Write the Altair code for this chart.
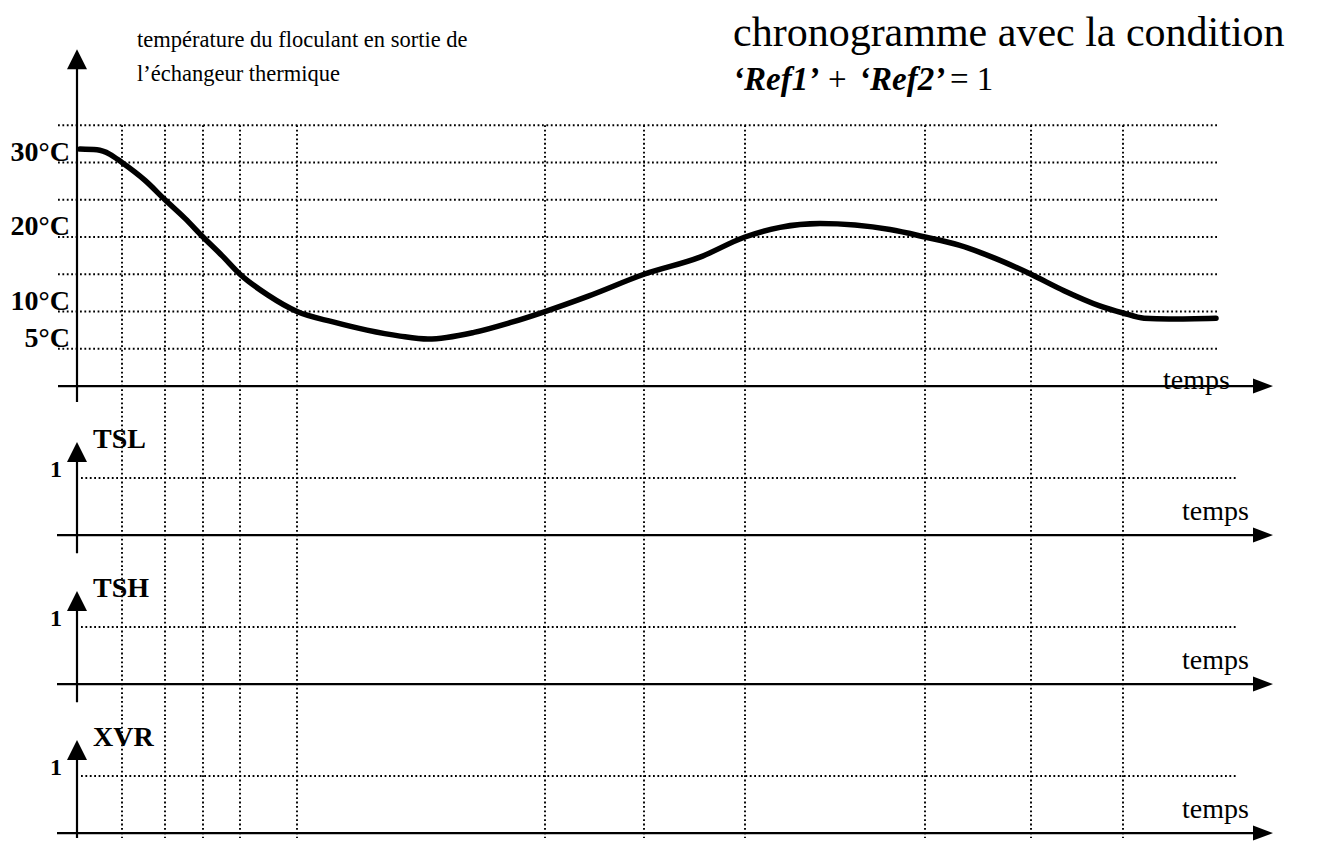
import altair as alt
import pandas as pd

# ---------------- values ----------------
# time in arbitrary units (0 = vertical axis), temperature in °C
curve_time = [0.3, 2.0, 3.3, 4.5, 6.8, 8.8, 10.8, 12.6, 14.5, 16.3, 19.1, 22.0,
              25.6, 29.0, 32.3, 35.1, 39.7, 43.3, 46.8, 51.2, 56.7, 62.3, 66.8,
              70.3, 74.3, 77.8, 81.3, 84.8, 88.2, 91.7, 95.4, 98.7, 102.2, 104.6,
              106.7, 109.2, 113.9]
curve_temp = [31.8, 31.7, 31.1, 30.0, 27.6, 25.0, 22.5, 20.0, 17.5, 15.0, 12.2, 10.0,
              8.6, 7.5, 6.7, 6.3, 7.2, 8.5, 10.0, 12.1, 15.0, 17.3, 20.0,
              21.3, 21.8, 21.6, 21.0, 20.0, 18.9, 17.2, 15.0, 12.8, 10.8, 9.8,
              9.1, 9.0, 9.1]
grid_times = [4.5, 8.8, 12.6, 16.3, 22.0, 46.8, 56.7, 66.8, 84.8, 95.4, 104.6]
temp_grid_levels = [5, 10, 15, 20, 25, 30, 35]
temp_tick_values = [30, 20, 10, 5]
temp_tick_labels = ["30°C", "20°C", "10°C", "5°C"]
signal_names = ["TSL", "TSH", "XVR"]
signal_level = 1
axis_label = "temps"
heading_lines = ["température du floculant en sortie de", "l’échangeur thermique"]
title_line1 = "chronogramme avec la condition"
title_line2_parts = ["‘Ref1’", "+", "‘Ref2’", "= 1"]
title_line2_bold = [True, False, True, False]

# ---------------- layout ----------------
FONT = "Liberation Serif"
INK = "#000000"
W = 1304
X_DOMAIN = [-6.9, 123.5]
TOP_H = 412
TOP_DOMAIN = [-4.56, 50.74]
SIG_HEIGHTS = [149, 149, 120]
SIG_HI = 2.018
SIG_PX = 57.0
T2_POS = [65.6, 75.1, 78.2, 87.3]

RIGHT_ARROW = "M0,0L-2,-0.75L-2,0.75Z"
UP_ARROW = "M0,0L-1,2L1,2Z"

xs = alt.Scale(domain=X_DOMAIN, nice=False, zero=False)
dotted = dict(color=INK, strokeWidth=1.9, strokeDash=[1.8, 2.6])


def X(f):
    return alt.X(f, type="quantitative", scale=xs, axis=None)


def Y(f, dom):
    return alt.Y(f, type="quantitative",
                 scale=alt.Scale(domain=dom, nice=False, zero=False), axis=None)


def arrow(df, dom, shape):
    return alt.Chart(df).mark_point(shape=shape, size=400, filled=True, opacity=1,
                                    color="black", strokeWidth=0).encode(
        x=X("t"), y=Y("v", dom))


def text_layer(df, dom, **kw):
    return alt.Chart(df).mark_text(font=FONT, color="black", **kw).encode(
        x=X("t"), y=Y("v", dom), text="label:N")


# ---------------- top panel: temperature ----------------
dom = TOP_DOMAIN
top_layers = []
top_layers.append(alt.Chart(pd.DataFrame({"v": temp_grid_levels, "x0": -1.9, "x1": 114.1}))
                  .mark_rule(**dotted).encode(x=X("x0"), x2="x1", y=Y("v", dom)))
top_layers.append(alt.Chart(pd.DataFrame({"t": grid_times, "y0": 35.0, "y1": dom[0]}))
                  .mark_rule(**dotted).encode(x=X("t"), y=Y("y0", dom), y2="y1"))
top_layers.append(alt.Chart(pd.DataFrame({"x0": [-1.9], "x1": [117.6], "v": [0.0]}))
                  .mark_rule(color="black", strokeWidth=2.2)
                  .encode(x=X("x0"), x2="x1", y=Y("v", dom)))
top_layers.append(arrow(pd.DataFrame({"t": [119.6], "v": [0.0]}), dom, RIGHT_ARROW))
top_layers.append(alt.Chart(pd.DataFrame({"t": [0.0], "y0": [-2.15], "y1": [42.6]}))
                  .mark_rule(color="black", strokeWidth=2.2)
                  .encode(x=X("t"), y=Y("y0", dom), y2="y1"))
top_layers.append(arrow(pd.DataFrame({"t": [0.0], "v": [45.2]}), dom, UP_ARROW))
top_layers.append(alt.Chart(pd.DataFrame({"t": curve_time, "T": curve_temp}))
                  .mark_line(color="black", strokeWidth=5.5, interpolate="monotone",
                             strokeCap="round")
                  .encode(x=X("t"), y=Y("T", dom)))
top_layers.append(text_layer(pd.DataFrame({"t": -0.7, "v": temp_tick_values,
                                           "label": temp_tick_labels}), dom,
                             align="right", baseline="alphabetic", dy=-2,
                             fontSize=28, fontWeight="bold"))
top_layers.append(text_layer(pd.DataFrame({"t": 6.0, "v": [45.5, 41.0],
                                           "label": heading_lines}), dom,
                             align="left", baseline="alphabetic", fontSize=22.5))
top_layers.append(text_layer(pd.DataFrame({"t": [65.6], "v": [45.7],
                                           "label": [title_line1]}), dom,
                             align="left", baseline="alphabetic", fontSize=42))
for pos, part, bold in zip(T2_POS, title_line2_parts, title_line2_bold):
    kw = dict(fontWeight="bold", fontStyle="italic") if bold else {}
    top_layers.append(text_layer(pd.DataFrame({"t": [pos], "v": [39.8], "label": [part]}),
                                 dom, align="left", baseline="alphabetic",
                                 fontSize=33, **kw))
top_layers.append(text_layer(pd.DataFrame({"t": [108.6], "v": [-0.4],
                                           "label": [axis_label]}), dom,
                             align="left", baseline="alphabetic", fontSize=28))

top = alt.layer(*top_layers).properties(width=W, height=TOP_H)


# ---------------- signal panels ----------------
def signal_panel(name, h):
    lo = SIG_HI - h / SIG_PX
    d = [lo, SIG_HI]
    layers = []
    layers.append(alt.Chart(pd.DataFrame({"v": [signal_level], "x0": 0.4, "x1": 115.9}))
                  .mark_rule(**dotted).encode(x=X("x0"), x2="x1", y=Y("v", d)))
    layers.append(alt.Chart(pd.DataFrame({"t": grid_times, "y0": SIG_HI, "y1": lo}))
                  .mark_rule(**dotted).encode(x=X("t"), y=Y("y0", d), y2="y1"))
    layers.append(alt.Chart(pd.DataFrame({"x0": [-2.0], "x1": [117.6], "v": [0.0]}))
                  .mark_rule(color="black", strokeWidth=2.2)
                  .encode(x=X("x0"), x2="x1", y=Y("v", d)))
    layers.append(arrow(pd.DataFrame({"t": [119.6], "v": [0.0]}), d, RIGHT_ARROW))
    layers.append(alt.Chart(pd.DataFrame({"t": [0.0], "y0": [max(-0.32, lo)], "y1": [1.3]}))
                  .mark_rule(color="black", strokeWidth=2.2)
                  .encode(x=X("t"), y=Y("y0", d), y2="y1"))
    layers.append(arrow(pd.DataFrame({"t": [0.0], "v": [1.63]}), d, UP_ARROW))
    layers.append(text_layer(pd.DataFrame({"t": [1.6], "v": [1.67], "label": [name]}), d,
                             align="left", baseline="middle", fontSize=28,
                             fontWeight="bold"))
    layers.append(text_layer(pd.DataFrame({"t": [-1.5], "v": [1.14],
                                           "label": [str(signal_level)]}), d,
                             align="right", baseline="middle", fontSize=24,
                             fontWeight="bold"))
    layers.append(text_layer(pd.DataFrame({"t": [110.5], "v": [0.26],
                                           "label": [axis_label]}), d,
                             align="left", baseline="alphabetic", fontSize=28))
    return alt.layer(*layers).properties(width=W, height=h)


panels = [top] + [signal_panel(n, h) for n, h in zip(signal_names, SIG_HEIGHTS)]

chart = (alt.vconcat(*panels, spacing=0, bounds="flush")
         .properties(padding=0, background="white")
         .configure_view(stroke=None)
         .configure_concat(spacing=0))

chart.save("out.html", embed_options={"renderer": "svg", "actions": False})
